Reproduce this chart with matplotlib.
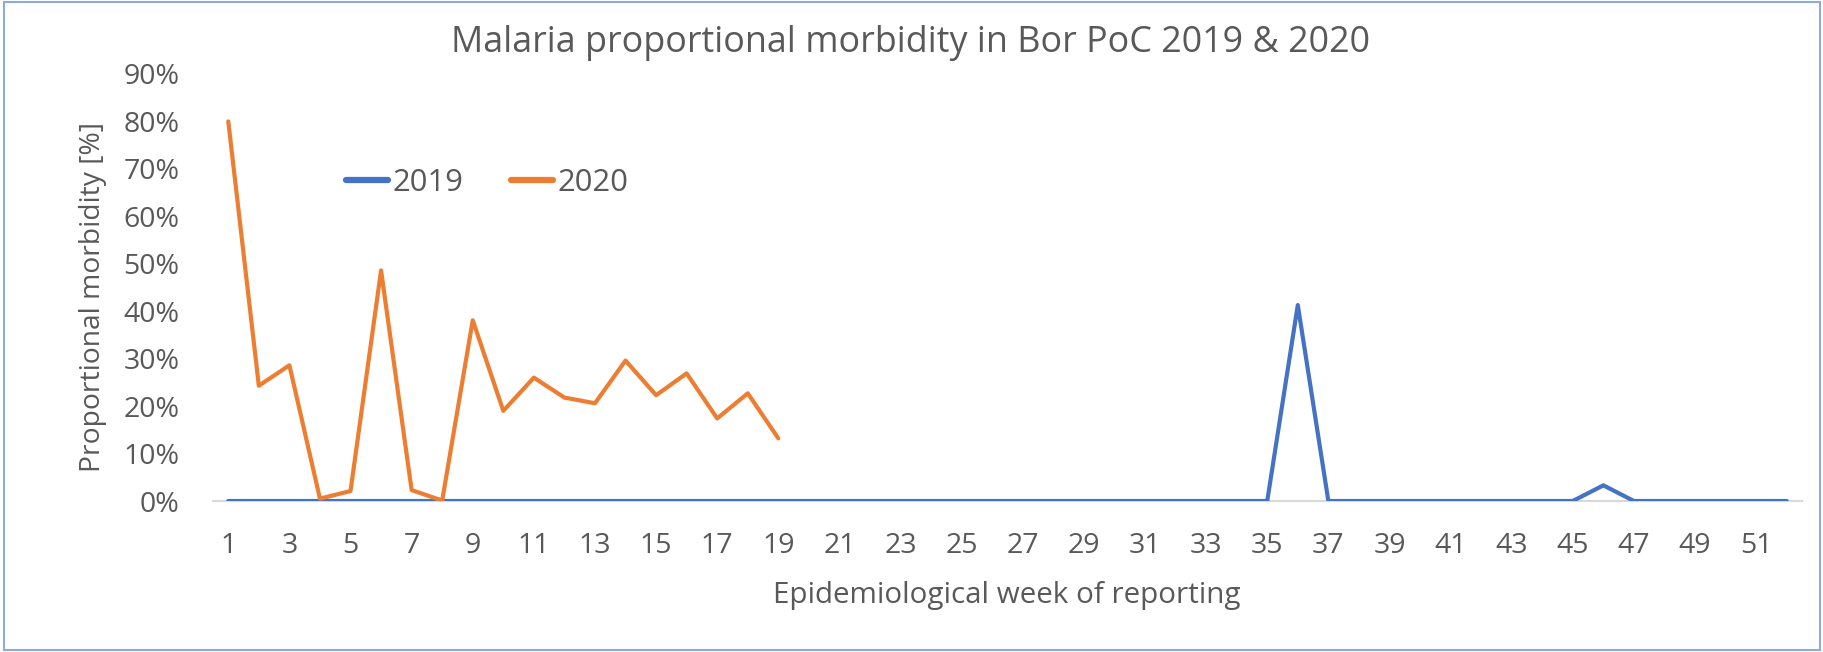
import matplotlib
matplotlib.use("Agg")
import matplotlib.pyplot as plt
from matplotlib.patches import Rectangle

plt.rcParams['font.family'] = ['Open Sans', 'DejaVu Sans']

weeks = list(range(1, 53))
y2019 = [0]*35 + [41.3, 0] + [0]*8 + [3.3] + [0]*6
weeks2020 = list(range(1, 20))
y2020 = [80.0, 24.3, 28.6, 0.5, 2.1, 48.6, 2.3, 0.1, 38.1, 19.0, 26.0, 21.8, 20.6,
         29.6, 22.3, 26.9, 17.4, 22.7, 13.2]
xticks = list(range(1, 53, 2))
yticks = [0, 10, 20, 30, 40, 50, 60, 70, 80, 90]

title = "Malaria proportional morbidity in Bor PoC 2019 & 2020"
xlabel = "Epidemiological week of reporting"
ylabel = "Proportional morbidity [%]"

W, H = 1823, 652
fig = plt.figure(figsize=(W/100, H/100), dpi=100)
TXT = '#595959'
BLUE = '#4472C4'
ORANGE = '#ED7D31'

L, R, B, T = 213, 1802, 501, 74
ax = fig.add_axes([L/W, 1-B/H, (R-L)/W, (B-T)/H])
ax.plot(weeks, y2019, color=BLUE, lw=3.0, solid_capstyle='round', solid_joinstyle='round', label='2019', zorder=3)
ax.plot(weeks2020, y2020, color=ORANGE, lw=3.0, solid_capstyle='round', solid_joinstyle='round', label='2020', zorder=4)
ax.set_xlim(0.5, 52.5)
ax.set_ylim(0, 90)
ax.set_xticks(xticks)
ax.set_xticklabels([str(v) for v in xticks])
ax.set_yticks(yticks)
ax.set_yticklabels([f"{v}%" for v in yticks])
ax.tick_params(axis='both', length=0, labelsize=20.5, colors=TXT)
ax.tick_params(axis='y', pad=24)
ax.tick_params(axis='x', pad=22)
for s in ['top', 'right', 'left']:
    ax.spines[s].set_visible(False)
ax.spines['bottom'].set_color('#D9D9D9')
ax.spines['bottom'].set_linewidth(1.5)
ax.spines['bottom'].set_zorder(1)

fig.text(911/W, 1-43/H, title, ha='center', va='center', fontsize=25.8, color=TXT)
fig.text(1007/W, 1-596/H, xlabel, ha='center', va='center', fontsize=21.3, color=TXT)
fig.text(93/W, 1-297/H, ylabel, ha='center', va='center', rotation=90, fontsize=20.3, color=TXT)

leg = ax.legend(loc='center left', bbox_to_anchor=(346/W, 1-183/H), bbox_transform=fig.transFigure,
                ncol=2, frameon=False, fontsize=22.3, handlelength=1.35, handletextpad=0.15,
                columnspacing=1.55, borderpad=0, borderaxespad=0)
for t in leg.get_texts():
    t.set_color(TXT)
for h in leg.get_lines():
    h.set_linewidth(4.5)

fig.patches.append(Rectangle((4/W, 2/H), (1820-4)/W, (650-2)/H, transform=fig.transFigure,
                             fill=False, edgecolor='#8FAADC', lw=1.5))

fig.savefig('out.png', dpi=100, facecolor='white')
